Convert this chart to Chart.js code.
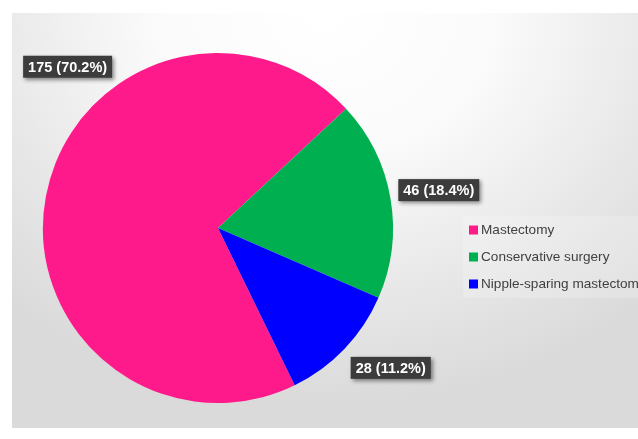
<!DOCTYPE html>
<html lang="en">
<head>
    <meta charset="UTF-8">
    <title>Surgery type</title>
    <script src="https://cdn.jsdelivr.net/npm/chart.js"></script>
    <style>
        html, body { margin: 0; padding: 0; background: #fff; }
        #wrap { position: relative; width: 638px; height: 439px; overflow: hidden; }
        #panel {
            position: absolute; left: 12px; top: 13px; width: 626px; height: 415px;
            background: radial-gradient(ellipse 75% 95% at 50% 0%, #ffffff 0%, #fbfbfb 35%, #e6e6e6 75%, #dadada 100%);
        }
        #chart { position: absolute; left: 0; top: 0; }
    </style>
</head>
<body>
    <div id="wrap">
        <div id="panel"></div>
        <canvas id="chart" width="638" height="439"></canvas>
    </div>

    <script>
        const categories = ['Mastectomy', 'Conservative surgery', 'Nipple-sparing mastectomy'];
        const counts = [175, 46, 28];
        const colors = ['#ff1a8c', '#00b050', '#0000ff'];

        const total = counts.reduce((a, b) => a + b, 0);

        // value labels in dark boxes, placed round the pie
        const boxLabels = {
            id: 'boxLabels',
            afterDatasetsDraw(chart, args, opts) {
                const ctx = chart.ctx;
                const arcs = chart.getDatasetMeta(0).data;
                ctx.save();
                ctx.font = 'bold 14.5px "Liberation Sans", Arial, sans-serif';
                ctx.textAlign = 'center';
                ctx.textBaseline = 'middle';
                arcs.forEach((arc, i) => {
                    const v = chart.data.datasets[0].data[i];
                    const pct = Math.floor(v / total * 1000) / 10;
                    const text = v + ' (' + pct.toFixed(1) + '%)';
                    let ang = (arc.startAngle + arc.endAngle) / 2;
                    if (opts.angles[i] != null) ang = opts.angles[i] * Math.PI / 180 - Math.PI / 2;
                    const dist = arc.outerRadius * opts.dist[i];
                    const x = arc.x + Math.cos(ang) * dist;
                    const y = arc.y + Math.sin(ang) * dist;
                    const w = ctx.measureText(text).width + 10;
                    const h = 22;
                    ctx.shadowColor = 'rgba(0,0,0,0.45)';
                    ctx.shadowBlur = 4;
                    ctx.shadowOffsetX = 2;
                    ctx.shadowOffsetY = 2;
                    ctx.fillStyle = '#3c3c3c';
                    ctx.fillRect(x - w / 2, y - h / 2, w, h);
                    ctx.shadowColor = 'transparent';
                    ctx.fillStyle = '#ffffff';
                    ctx.fillText(text, x, y + 1);
                });
                ctx.restore();
            }
        };

        // legend at right, cut by the edge as in the original
        const sideLegend = {
            id: 'sideLegend',
            afterDraw(chart, args, opts) {
                const ctx = chart.ctx;
                ctx.save();
                ctx.fillStyle = 'rgba(255,255,255,0.2)';
                ctx.fillRect(opts.x - 6, opts.y - 14, 200, 82);
                ctx.font = '13.6px "Liberation Sans", Arial, sans-serif';
                ctx.textBaseline = 'middle';
                chart.data.labels.forEach((lab, i) => {
                    const y = opts.y + i * opts.step;
                    ctx.fillStyle = chart.data.datasets[0].backgroundColor[i];
                    ctx.fillRect(opts.x, y - 4.5, 9, 9);
                    ctx.fillStyle = '#404040';
                    ctx.fillText(lab, opts.x + 12, y + 0.5);
                });
                ctx.restore();
            }
        };

        new Chart(document.getElementById('chart'), {
            type: 'pie',
            data: {
                labels: categories,
                datasets: [{
                    data: counts,
                    backgroundColor: colors,
                    borderWidth: 0
                }]
            },
            options: {
                responsive: false,
                animation: false,
                rotation: 154,
                layout: { padding: { left: 43, right: 245, top: 53, bottom: 36 } },
                plugins: {
                    legend: { display: false },
                    tooltip: { enabled: false },
                    boxLabels: { angles: [317, null, 129], dist: [1.26, 1.28, 1.27] },
                    sideLegend: { x: 469, y: 230, step: 27 }
                }
            },
            plugins: [boxLabels, sideLegend]
        });
    </script>
</body>
</html>
